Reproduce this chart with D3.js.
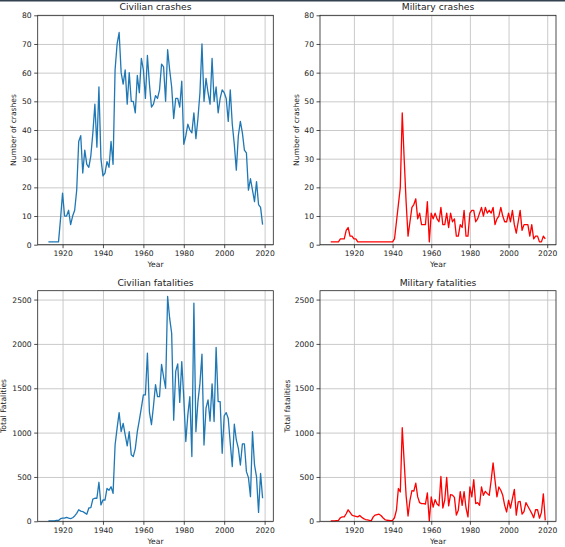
<!DOCTYPE html>
<html><head><meta charset="utf-8">
<script src="https://cdn.jsdelivr.net/npm/d3@7/dist/d3.min.js"></script>
<style>
body{margin:0;background:#fff}
svg{display:block}
text{font-family:"DejaVu Sans",sans-serif;fill:#222}
</style>
</head><body>
<svg id="c" width="565" height="547"></svg>
<script>
// ---- data ----
const civStart = 1913, civEnd = 2019;
const milStart = 1908, milEnd = 2019;
const civYears = d3.range(civStart, civEnd + 1);
const milYears = d3.range(milStart, milEnd + 1);

const civCrashes = [
  1,1,1,1,1,1,9,
  18,10,10,12,7,10,12,19,36,38,
  25,33,28,27,31,39,49,34,55,30,
  24,25,29,27,36,28,61,70,74,60,
  56,61,49,60,50,50,46,59,53,65,
  61,51,66,56,48,49,52,51,54,63,
  62,50,68,61,55,44,51,51,48,57,
  35,38,42,40,39,46,37,44,53,70,
  50,58,53,49,65,50,55,46,51,54,
  53,51,43,54,42,35,26,38,43,39,
  33,32,19,23,19,15,22,14,13,7
];
const milCrashes = [
  1,1,
  1,1,1,2,2,2,5,6,3,3,
  2,2,1,1,1,1,1,1,1,1,
  1,1,1,1,1,1,1,1,1,1,
  1,2,8,14,20,46,30,15,3,8,
  13,14,16,9,11,7,7,7,15,1,
  11,9,11,9,8,13,7,7,11,6,
  11,8,9,3,3,7,6,12,3,3,
  11,12,12,8,9,11,13,10,13,11,
  12,11,13,7,9,10,13,10,8,8,
  11,8,12,7,4,8,12,5,7,7,
  7,3,7,2,3,3,1,1,3,2
];
const civFatalities = [
  5,5,5,5,10,10,30,
  35,35,45,35,30,40,60,90,130,115,
  110,95,80,150,155,250,260,260,440,185,
  240,240,370,350,390,315,860,1050,1225,1010,
  1105,975,850,1010,750,730,820,1010,1140,1280,
  1425,1425,1895,1230,1090,1300,1540,1405,1405,1770,
  1630,1500,2535,2290,2120,1140,1690,1775,1340,1800,
  1390,900,1200,1405,730,2460,1010,1350,1555,1885,
  860,1275,1370,1130,1550,1125,1960,1350,1350,767,
  1190,1225,1160,880,617,1095,917,823,635,872,
  872,560,492,278,1010,635,500,100,540,260
];
const milFatalities = [
  5,5,
  5,8,10,40,50,50,85,130,100,70,
  60,55,50,65,45,30,20,15,10,8,
  50,70,75,80,65,40,20,12,10,8,
  10,40,125,370,330,1055,670,290,60,237,
  345,340,430,275,210,200,200,195,320,5,
  275,160,245,195,175,505,150,240,495,175,
  300,295,270,70,125,335,180,335,150,50,
  387,275,470,200,210,180,387,293,338,312,
  293,462,658,462,275,387,350,293,180,105,
  237,150,256,360,70,220,225,80,110,210,
  170,130,90,40,130,130,35,100,310,10
];

const xTicks = [1920, 1940, 1960, 1980, 2000, 2020];
const crashTicks = [0,10,20,30,40,50,60,70,80];
const fatalTicks = [0,500,1000,1500,2000,2500];
const crashMax = 80, fatalMax = 2600;

const titles = ["Civilian crashes","Military crashes","Civilian fatalities","Military fatalities"];
const yLabels = ["Number of crashes","Number of crashes","Total Fatalities","Total fatalities"];
const xLabel = "Year";

// ---- layout ----
const panels = [
  {t:0, years:civYears, vals:civCrashes, color:"#1f77b4", ymax:crashMax, yt:crashTicks, x0:37.7, x1:273.3, y0:15.3, y1:244.7, ylx:16.3},
  {t:1, years:milYears, vals:milCrashes, color:"#ff0000", ymax:crashMax, yt:crashTicks, x0:320, x1:556, y0:15.3, y1:244.7, ylx:298.8},
  {t:2, years:civYears, vals:civFatalities, color:"#1f77b4", ymax:fatalMax, yt:fatalTicks, x0:37.7, x1:273.3, y0:290.7, y1:521.3, ylx:5.6},
  {t:3, years:milYears, vals:milFatalities, color:"#ff0000", ymax:fatalMax, yt:fatalTicks, x0:320, x1:556, y0:290.7, y1:521.3, ylx:289.8}
];

const svg = d3.select("#c");
svg.append("rect").attr("x",0).attr("y",0).attr("width",565).attr("height",1.5).attr("fill","#34414e");

panels.forEach(p => {
  const ext = d3.extent(p.years);
  const pad = (ext[1]-ext[0])*0.05;
  const x = d3.scaleLinear().domain([ext[0]-pad, ext[1]+pad]).range([p.x0, p.x1]);
  const y = d3.scaleLinear().domain([0, p.ymax]).range([p.y1, p.y0]);
  const w = p.x1 - p.x0, h = p.y1 - p.y0;
  const g = svg.append("g");

  // grid
  g.append("g").attr("transform",`translate(0,${p.y1})`)
    .call(d3.axisBottom(x).tickValues(xTicks).tickSize(-h).tickFormat(""))
    .call(s=>s.select(".domain").remove())
    .call(s=>s.selectAll("line").attr("stroke","#c4c4c4").attr("stroke-width",0.9));
  g.append("g").attr("transform",`translate(${p.x0},0)`)
    .call(d3.axisLeft(y).tickValues(p.yt).tickSize(-w).tickFormat(""))
    .call(s=>s.select(".domain").remove())
    .call(s=>s.selectAll("line").attr("stroke","#c4c4c4").attr("stroke-width",0.9));

  // line
  const data = p.years.map((yr,i)=>[yr, p.vals[i]]);
  g.append("path").datum(data)
    .attr("fill","none").attr("stroke",p.color).attr("stroke-width",1.3)
    .attr("stroke-linejoin","round")
    .attr("d", d3.line().x(d=>x(d[0])).y(d=>y(d[1])));

  // axes
  const ax = g.append("g").attr("transform",`translate(0,${p.y1})`)
    .call(d3.axisBottom(x).tickValues(xTicks).tickSize(3.5).tickPadding(2.5).tickFormat(d3.format("d")));
  const ay = g.append("g").attr("transform",`translate(${p.x0},0)`)
    .call(d3.axisLeft(y).tickValues(p.yt).tickSize(3.5).tickPadding(2.5).tickFormat(d3.format("d")));
  [ax, ay].forEach(a => {
    a.select(".domain").remove();
    a.selectAll("line").attr("stroke","#222").attr("stroke-width",0.8);
    a.selectAll("text").attr("font-size","7.6px").attr("fill","#222").style("font-family","'DejaVu Sans',sans-serif");
  });

  // frame
  g.append("rect").attr("x",p.x0).attr("y",p.y0).attr("width",w).attr("height",h)
    .attr("fill","none").attr("stroke","#222").attr("stroke-width",0.8);

  // title
  g.append("text").attr("x",(p.x0+p.x1)/2).attr("y",p.y0-5)
    .attr("text-anchor","middle").attr("font-size","9.2px").text(titles[p.t]);
  // x label
  g.append("text").attr("x",(p.x0+p.x1)/2).attr("y",p.y1+22.5)
    .attr("text-anchor","middle").attr("font-size","7.6px").text(xLabel);
  // y label
  g.append("text").attr("transform",`translate(${p.ylx},${(p.y0+p.y1)/2}) rotate(-90)`)
    .attr("text-anchor","middle").attr("font-size","7.6px").text(yLabels[p.t]);
});
</script>
</body></html>
